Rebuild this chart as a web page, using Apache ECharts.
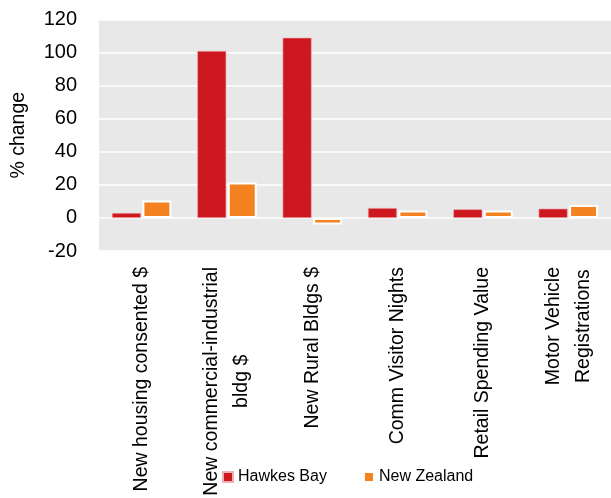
<!DOCTYPE html>
<html>
<head>
<meta charset="utf-8">
<script src="https://cdn.jsdelivr.net/npm/echarts@6/dist/echarts.min.js"></script>
<style>
  html, body { margin: 0; padding: 0; background: #ffffff; }
  #chart { width: 611px; height: 498px; }
</style>
</head>
<body>
<div id="chart"></div>
<script>
// Annual % change by indicator
const categories = [
  'New housing consented $',
  'New commercial-industrial\nbldg $',
  'New Rural Bldgs $',
  'Comm Visitor Nights',
  'Retail Spending Value',
  'Motor Vehicle\nRegistrations'
];
const hawkesBay = [3, 101, 109, 6, 5.2, 5.6];
const newZealand = [10.5, 21.5, -4, 4.5, 4.5, 7.8];
const seriesNames = ['Hawkes Bay', 'New Zealand'];

const FONT = '"Liberation Sans", Arial, sans-serif';
const chart = echarts.init(document.getElementById('chart'));

chart.setOption({
  animation: false,
  backgroundColor: '#ffffff',
  grid: {
    left: 99, right: 0, top: 19.5, bottom: 247,
    outerBoundsMode: 'none',
    show: true, backgroundColor: '#e8e8e8', borderWidth: 0
  },
  legend: {
    data: seriesNames,
    left: 217, top: 464,
    itemWidth: 10, itemHeight: 10, itemGap: 36,
    icon: 'rect',
    textStyle: { fontFamily: FONT, fontSize: 16, color: '#000' }
  },
  xAxis: {
    type: 'category',
    data: categories,
    axisLine: { show: false },
    axisTick: { show: false },
    axisLabel: {
      rotate: 90,
      interval: 0,
      margin: 16,
      fontFamily: FONT,
      fontSize: 19.5,
      color: '#000',
      lineHeight: 30,
      formatter: v => v.split('\n').map(s => '{c|' + s + '}').join('\n'),
      rich: { c: { align: 'center', fontFamily: FONT, fontSize: 19.5, lineHeight: 30, color: '#000' } }
    }
  },
  yAxis: {
    type: 'value',
    min: -20, max: 120, interval: 20,
    name: '% change',
    nameLocation: 'middle',
    nameGap: 70,
    nameRotate: 90,
    nameTextStyle: { fontFamily: FONT, fontSize: 19.5, color: '#000' },
    axisLine: { show: false },
    axisTick: { show: false },
    axisLabel: { margin: 22, fontFamily: FONT, fontSize: 20, color: '#000' },
    splitLine: { lineStyle: { color: '#ffffff', width: 1.5 } }
  },
  series: [
    {
      name: seriesNames[0], type: 'bar', data: hawkesBay,
      barWidth: '34%', barGap: '5%',
      itemStyle: { color: '#ce1820', borderColor: '#f0b0b0', borderWidth: 0.6 }
    },
    {
      name: seriesNames[1], type: 'bar', data: newZealand,
      barWidth: '34%',
      itemStyle: { color: '#f58220', borderColor: '#ffffff', borderWidth: 2 }
    }
  ]
});
</script>
</body>
</html>
